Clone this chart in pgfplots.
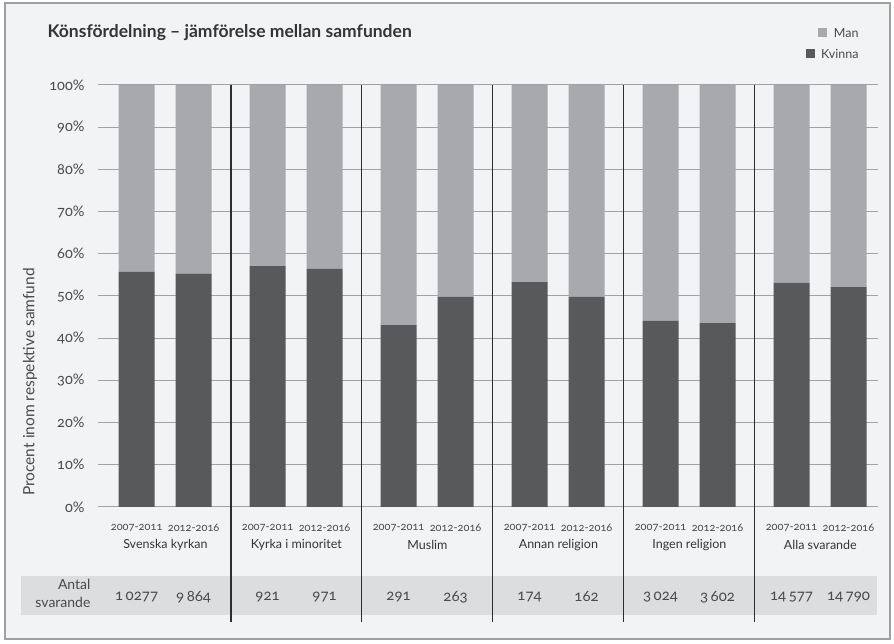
\documentclass[border=0pt]{standalone}
\usepackage{fontspec}
\setmainfont{Lato}[Numbers=OldStyle]
\usepackage{pgfplots}
\pgfplotsset{compat=1.18}
\definecolor{bgc}{HTML}{F2F3F5}
\definecolor{framec}{HTML}{A0A0A0}
\definecolor{tablec}{HTML}{DCDDDF}
\definecolor{darkbar}{HTML}{58595B}
\definecolor{lightbar}{HTML}{A8A9AC}
\definecolor{gridc}{HTML}{A2A2A2}
\definecolor{txt}{HTML}{4A4A4A}
\definecolor{sep}{HTML}{2E2E2E}

\begin{document}
\begin{tikzpicture}[x=1pt,y=1pt]
\useasboundingbox (0,0) rectangle (894,644);
\fill[white] (0,0) rectangle (894,644);
\filldraw[fill=bgc, draw=framec, line width=1.2] (5,5) rectangle (890,641);
\fill[tablec] (21,29) rectangle (877,68);

% title and legend
\node[anchor=west, text=txt!70!black, font=\bfseries\fontsize{17.5}{20}\selectfont] at (44,611) {Könsfördelning – jämförelse mellan samfunden};
\node[anchor=east, text=txt, font=\fontsize{12.5}{14}\selectfont] (lm) at (862,611) {Man};
\fill[lightbar] ([xshift=-12]lm.west) ++(0,-4.5) rectangle ++(9,9);
\node[anchor=east, text=txt, font=\fontsize{12.5}{14}\selectfont] (lk) at (862,590) {Kvinna};
\fill[darkbar] ([xshift=-12]lk.west) ++(0,-4.5) rectangle ++(9,9);

% y label
\node[rotate=90, text=txt, font=\fontsize{15.5}{17}\selectfont] at (30,262) {Procent inom respektive samfund};

% table header
\node[anchor=east, align=right, text=txt, font=\fontsize{14}{18}\selectfont] at (94,51) {Antal\\svarande};

\begin{axis}[
    at={(98pt,137pt)}, anchor=south west,
    width=780pt, height=422pt, scale only axis,
    xmin=-0.015, xmax=5.94,
    ymin=0, ymax=100,
    enlargelimits=false,
    ybar stacked,
    bar width=0.275,
    xtick=\empty,
    ytick={0,10,...,100},
    ymajorgrids,
    grid style={gridc, line width=1pt},
    axis line style={draw=none},
    major tick length=0pt,
    /pgf/number format/assume math mode=true,
    yticklabel={\pgfmathprintnumber{\tick}\%},
    yticklabel style={text=txt, font=\fontsize{14.5}{16}\selectfont, xshift=-10pt},
    clip=false,
]
% Kvinna
\addplot[fill=darkbar, draw=none] coordinates {
    (0.28,55.7) (0.715,55.3) (1.28,57.1) (1.715,56.4) (2.28,43.1) (2.715,49.8)
    (3.28,53.3) (3.715,49.8) (4.28,44.1) (4.715,43.6) (5.28,53.1) (5.715,52.1)
};
% Man
\addplot[fill=lightbar, draw=none] coordinates {
    (0.28,44.3) (0.715,44.7) (1.28,42.9) (1.715,43.6) (2.28,56.9) (2.715,50.2)
    (3.28,46.7) (3.715,50.2) (4.28,55.9) (4.715,56.4) (5.28,46.9) (5.715,47.9)
};

% group separators
\foreach \s in {1,...,5} {
    \edef\tmp{\noexpand\draw[sep, line width=1.1pt] (axis cs:\s,100) -- (axis cs:\s,-27.3);}
    \tmp
}

% period labels
\foreach \g in {0,...,5} {
    \edef\tmp{\noexpand\node[text=txt, font=\noexpand\fontsize{11}{13}\noexpand\selectfont] at (axis cs:\g+0.28,-5) {2007-2011};
      \noexpand\node[text=txt, font=\noexpand\fontsize{11}{13}\noexpand\selectfont] at (axis cs:\g+0.715,-5) {2012-2016};}
    \tmp
}

% group names
\node[text=txt!70!black, font=\fontsize{12.5}{14}\selectfont] at (axis cs:0.5,-9) {Svenska kyrkan};
\node[text=txt!70!black, font=\fontsize{12.5}{14}\selectfont] at (axis cs:1.5,-9) {Kyrka i minoritet};
\node[text=txt!70!black, font=\fontsize{12.5}{14}\selectfont] at (axis cs:2.5,-9) {Muslim};
\node[text=txt!70!black, font=\fontsize{12.5}{14}\selectfont] at (axis cs:3.5,-9) {Annan religion};
\node[text=txt!70!black, font=\fontsize{12.5}{14}\selectfont] at (axis cs:4.5,-9) {Ingen religion};
\node[text=txt!70!black, font=\fontsize{12.5}{14}\selectfont] at (axis cs:5.5,-9) {Alla svarande};

% respondents
\foreach \xx/\nn in {0.28/1\,0277,0.715/9\,864,1.28/921,1.715/971,2.28/291,2.715/263,3.28/174,3.715/162,4.28/3\,024,4.715/3\,602,5.28/14\,577,5.715/14\,790} {
    \edef\tmp{\noexpand\node[text=txt, font=\noexpand\fontsize{15}{17}\noexpand\selectfont] at (axis cs:\xx,-21.3) {\unexpanded\expandafter{\nn}};}
    \tmp
}
\end{axis}
\end{tikzpicture}
\end{document}
